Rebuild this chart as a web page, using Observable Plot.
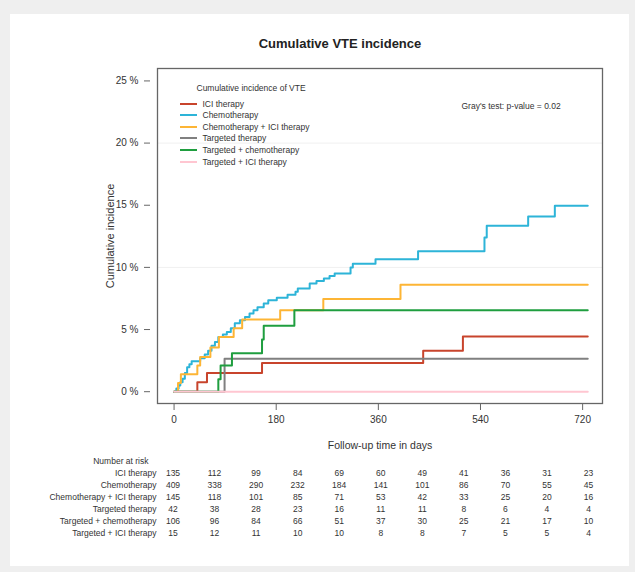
<!DOCTYPE html>
<html>
<head>
<meta charset="utf-8">
<script src="https://cdn.jsdelivr.net/npm/d3@7"></script>
<script src="https://cdn.jsdelivr.net/npm/@observablehq/plot@0.6"></script>
<style>
  body { margin: 0; background: #efefef; font-family: "Liberation Sans", Arial, sans-serif; }
  #root { position: relative; width: 635px; height: 572px; overflow: hidden; background: #efefef; }
  #panel { position: absolute; left: 10px; top: 14px; width: 619px; height: 552px; background: #fff; }
  .abs { position: absolute; white-space: nowrap; }
  #title { left: 240px; width: 200px; top: 36px; text-align: center; font-weight: bold; font-size: 13px; line-height: 16px; color: #222; }
  .leg { font-size: 8.5px; line-height: 10px; color: #333; }
  .sw { position: absolute; height: 2px; width: 17px; }
  #main, #table { position: absolute; left: 0; }
  #main { top: 0; }
  #table { top: 440px; }
</style>
</head>
<body>
<div id="root">
  <div id="panel"></div>
  <div id="main"></div>
  <div id="table"></div>
  <div id="title" class="abs">Cumulative VTE incidence</div>
  <div id="legend"></div>
</div>
<script>
// ---- data ----
const groups = ["ICI therapy", "Chemotherapy", "Chemotherapy + ICI therapy", "Targeted therapy", "Targeted + chemotherapy", "Targeted + ICI therapy"];
const colors = ["#C8442C", "#2DB4D8", "#FDB535", "#808080", "#1F9E3F", "#FFC6D1"];

// [day, cumulative incidence %]
const iciCurve = [[0,0],[41,0.75],[58,1.5],[155,2.3],[439,3.3],[509,4.45],[729,4.45]];
const chemoCurve = [[0,0],[4,0.25],[8,0.5],[11,0.75],[15,1.05],[19,1.5],[23,1.97],[27,2.2],[31,2.45],[46,2.7],[54,3.0],[60,3.3],[66,3.7],[72,4.0],[78,4.4],[86,4.6],[93,4.8],[100,5.1],[107,5.5],[116,5.75],[125,6.0],[133,6.3],[140,6.55],[147,6.8],[158,7.1],[166,7.35],[181,7.55],[200,7.8],[214,8.05],[218,8.3],[239,8.7],[251,8.9],[264,9.1],[274,9.3],[283,9.5],[311,10.0],[315,10.3],[355,10.65],[430,11.3],[547,12.4],[551,13.35],[624,14.1],[671,14.95],[729,14.95]];
const chemoIciCurve = [[0,0],[7,0.7],[12,1.4],[41,2.1],[46,2.8],[64,3.55],[79,4.4],[105,5.1],[120,5.8],[187,6.55],[263,7.45],[399,8.6],[729,8.6]];
const targetedCurve = [[0,0],[89,2.65],[729,2.65]];
const targChemoCurve = [[0,0],[78,1.0],[82,2.1],[102,3.1],[155,4.2],[158,5.3],[212,6.55],[729,6.55]];
const targIciCurve = [[0,0],[729,0]];
const curves = [iciCurve, chemoCurve, chemoIciCurve, targetedCurve, targChemoCurve, targIciCurve];

const xTicks = [0, 180, 360, 540, 720];
const yTicks = [0, 5, 10, 15, 20, 25];
const gridY = [10, 20];

// number at risk
const riskDays = [0, 72, 144, 216, 288, 360, 432, 504, 576, 648, 720];
const riskIci = [135, 112, 99, 84, 69, 60, 49, 41, 36, 31, 23];
const riskChemo = [409, 338, 290, 232, 184, 141, 101, 86, 70, 55, 45];
const riskChemoIci = [145, 118, 101, 85, 71, 53, 42, 33, 25, 20, 16];
const riskTargeted = [42, 38, 28, 23, 16, 11, 11, 8, 6, 4, 4];
const riskTargChemo = [106, 96, 84, 66, 51, 37, 30, 25, 21, 17, 10];
const riskTargIci = [15, 12, 11, 10, 10, 8, 8, 7, 5, 5, 4];
const riskRows = [riskIci, riskChemo, riskChemoIci, riskTargeted, riskTargChemo, riskTargIci];

// ---- build tables ----
const lineData = curves.map((c, i) => c.map(([day, pct]) => ({group: groups[i], day, pct})));
const riskData = riskRows.flatMap((row, i) => row.map((n, j) => ({group: groups[i], day: riskDays[j], n})));

const font = '"Liberation Sans", Arial, sans-serif';

const main = Plot.plot({
  width: 635, height: 460,
  marginLeft: 157, marginRight: 33, marginTop: 68, marginBottom: 57,
  style: {fontFamily: font, fontSize: "10px", color: "#333", background: "transparent", overflow: "visible"},
  x: {domain: [-29.2, 755]},
  y: {domain: [-0.95, 26]},
  marks: [
    Plot.ruleY(gridY, {stroke: "#f0f0f0", strokeWidth: 1}),
    ...lineData.map((d, i) => Plot.line(d, {x: "day", y: "pct", stroke: colors[i], strokeWidth: 2, curve: "step-after"})),
    Plot.frame({stroke: "#666", strokeWidth: 1.3}),
    Plot.axisX({ticks: xTicks, tickSize: 7, tickPadding: 5, stroke: "#666", fill: "#333", label: null}),
    Plot.axisY({ticks: yTicks, tickSize: 6, tickPadding: 6, dx: -7, stroke: "#666", fill: "#333", tickFormat: d => `${d} %`, label: null}),
    Plot.text(["Follow-up time in days"], {text: d => d, frameAnchor: "bottom", dy: 45, fontSize: 10.5, fill: "#333"}),
    Plot.text(["Cumulative incidence"], {text: d => d, frameAnchor: "left", textAnchor: "middle", rotate: -90, dx: -47, fontSize: 11, fill: "#333"})
  ]
});
document.getElementById("main").append(main);

const table = Plot.plot({
  width: 635, height: 110,
  marginLeft: 157, marginRight: 33, marginTop: 0, marginBottom: 0,
  style: {fontFamily: font, fontSize: "8.5px", color: "#333", background: "transparent", overflow: "visible"},
  x: {domain: [0, 720], range: [172.5, 588], axis: null},
  y: {type: "point", domain: groups, range: [31.7, 94.3], padding: 0},
  marks: [
    Plot.axisY({tickSize: 0, tickPadding: 1, label: null, fill: "#333"}),
    Plot.text(riskData, {x: "day", y: "group", text: "n", fill: "#333"}),
    Plot.text(["Number at risk"], {text: d => d, frameAnchor: "top-left", dx: -9, dy: 17.5, textAnchor: "end", fill: "#333"})
  ]
});
document.getElementById("table").append(table);

// legend (inside plot) and test annotation
const legend = document.getElementById("legend");
function addText(txt, left, cy, cls) {
  const el = document.createElement("div");
  el.className = "abs " + cls;
  el.style.left = left + "px";
  el.style.top = (cy - 5) + "px";
  el.textContent = txt;
  legend.append(el);
}
addText("Cumulative incidence of VTE", 196.5, 87.5, "leg");
groups.forEach((g, i) => {
  const cy = 103.5 + i * 11.6;
  const sw = document.createElement("div");
  sw.className = "sw";
  sw.style.left = "180px";
  sw.style.top = (cy - 1) + "px";
  sw.style.background = colors[i];
  legend.append(sw);
  addText(g, 202.5, cy, "leg");
});
addText("Gray's test: p-value = 0.02", 461.5, 105.5, "leg");
</script>
</body>
</html>
